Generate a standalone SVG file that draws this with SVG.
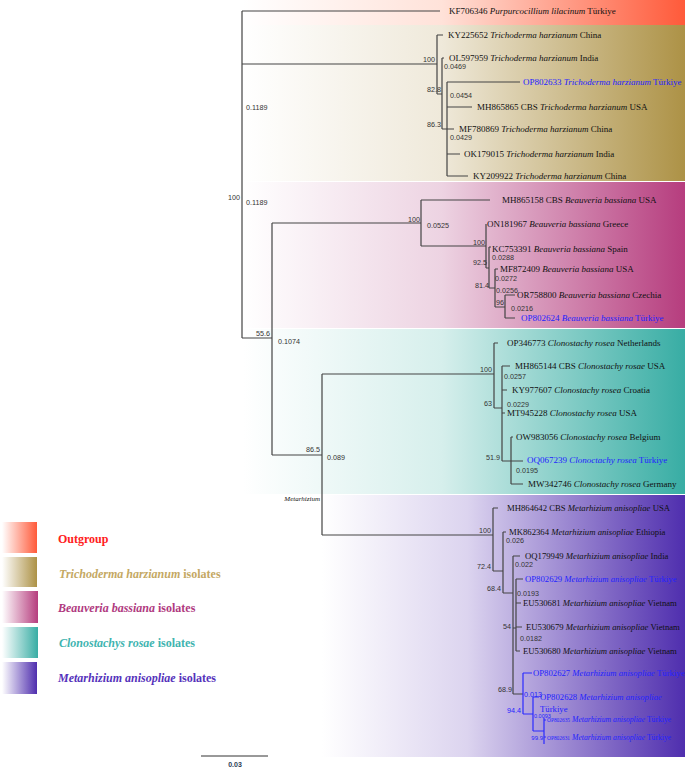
<svg xmlns="http://www.w3.org/2000/svg" width="685" height="768" viewBox="0 0 685 768">
<defs>
<linearGradient id="gOut" x1="0" y1="0" x2="1" y2="0"><stop offset="0" stop-color="#ffffff"/><stop offset="0.45" stop-color="#ffe2d9"/><stop offset="1" stop-color="#ff5a3a"/></linearGradient>
<linearGradient id="gTri" x1="0" y1="0" x2="1" y2="0"><stop offset="0" stop-color="#ffffff"/><stop offset="0.45" stop-color="#efe9da"/><stop offset="1" stop-color="#ad9246"/></linearGradient>
<linearGradient id="gBea" x1="0" y1="0" x2="1" y2="0"><stop offset="0" stop-color="#ffffff"/><stop offset="0.45" stop-color="#edd3e2"/><stop offset="1" stop-color="#b63d7e"/></linearGradient>
<linearGradient id="gClo" x1="0" y1="0" x2="1" y2="0"><stop offset="0" stop-color="#ffffff"/><stop offset="0.45" stop-color="#d6efec"/><stop offset="1" stop-color="#38ada4"/></linearGradient>
<linearGradient id="gMet" x1="0" y1="0" x2="1" y2="0"><stop offset="0" stop-color="#ffffff"/><stop offset="0.4" stop-color="#dcd4ef"/><stop offset="1" stop-color="#4f2eae"/></linearGradient>
<linearGradient id="lOut" x1="0" y1="0" x2="1" y2="0"><stop offset="0" stop-color="#ffffff"/><stop offset="1" stop-color="#ff5a3a"/></linearGradient>
<linearGradient id="lTri" x1="0" y1="0" x2="1" y2="0"><stop offset="0" stop-color="#ffffff"/><stop offset="1" stop-color="#ad9246"/></linearGradient>
<linearGradient id="lBea" x1="0" y1="0" x2="1" y2="0"><stop offset="0" stop-color="#ffffff"/><stop offset="1" stop-color="#b63d7e"/></linearGradient>
<linearGradient id="lClo" x1="0" y1="0" x2="1" y2="0"><stop offset="0" stop-color="#ffffff"/><stop offset="1" stop-color="#38ada4"/></linearGradient>
<linearGradient id="lMet" x1="0" y1="0" x2="1" y2="0"><stop offset="0" stop-color="#ffffff"/><stop offset="1" stop-color="#4f2eae"/></linearGradient>
</defs>
<style>
.lf{font-family:"Liberation Serif","Times New Roman",serif;font-size:9px;fill:#111}
.lf.b{fill:#2222ff}
.m{font-size:8.7px}
.i{font-style:italic}
.s{font-family:"Liberation Sans",Arial,sans-serif;font-size:7.2px;fill:#333}
.s.b{fill:#2222ff}
.e{text-anchor:end}
.br{fill:none;stroke:#444;stroke-width:1.2}
.bb{fill:none;stroke:#2a2aff;stroke-width:1.2}
.lg{font-family:"Liberation Serif","Times New Roman",serif;font-size:12px;font-weight:bold}
</style>
<rect width="685" height="768" fill="#ffffff"/>
<g id="bands">
<rect x="243" y="0" width="442" height="25" fill="url(#gOut)"/>
<rect x="243" y="25" width="442" height="156" fill="url(#gTri)"/>
<rect x="243" y="182" width="442" height="146" fill="url(#gBea)"/>
<rect x="243" y="329" width="442" height="165" fill="url(#gClo)"/>
<rect x="322" y="495" width="363" height="262" fill="url(#gMet)"/>
</g>
<g id="connectors">
<path class="br" d="M242,11V338M242,11H440M242,64H437M242,338H272"/>
<path class="br" d="M437,35V94M437,35H443M437,94H442M442,58V129M442,58H444M442,129H447M447,82V176M447,82H520M447,107H472M447,129H454M447,154H460M447,176H468"/>
<path class="br" d="M272,223V455M272,223H421M421,200V246M421,200H490M421,246H486M486,224V268M486,268H489M489,247V288M489,247H491M489,288H495M495,269V307M495,269H498M495,307H505M505,295V318M505,295H515M505,318H515"/>
<path class="br" d="M272,455H322M322,374V535M322,374H494M494,343V408M494,343H498M494,408H502M502,366V461M502,366H510M502,390H507M502,413H505M502,461H511M511,437V484M511,437H513M511,461H523M511,484H523"/>
<path class="br" d="M322,535H493M493,508V571M493,508H498M493,571H503M503,532V593M503,532H506M503,593H513M513,556V694M513,556H520M513,628H516M516,579V651M516,579H523M516,603H521M516,627H522M516,651H520M513,694H523"/>
<path class="bb" d="M523,673V714M523,673H532M523,714H533M533,697V731M533,697H539M533,731H544M544,718V744M544,720H546M544,737H546"/>
</g>
<g id="support">
<text class="s" x="246" y="110">0.1189</text>
<text class="s e" x="240" y="200">100</text>
<text class="s" x="246" y="205">0.1189</text>
<text class="s e" x="435" y="62">100</text>
<text class="s" x="444" y="69">0.0469</text>
<text class="s e" x="441" y="92">82.8</text>
<text class="s" x="450" y="98">0.0454</text>
<text class="s e" x="441" y="127">86.3</text>
<text class="s" x="450" y="140">0.0429</text>
<text class="s e" x="420" y="222">100</text>
<text class="s" x="427" y="228">0.0525</text>
<text class="s e" x="485" y="245">100</text>
<text class="s" x="492" y="260">0.0288</text>
<text class="s e" x="487" y="265">92.5</text>
<text class="s" x="495" y="281">0.0272</text>
<text class="s e" x="489" y="288">81.4</text>
<text class="s" x="496" y="293">0.0256</text>
<text class="s e" x="504" y="305">96</text>
<text class="s" x="511" y="311">0.0216</text>
<text class="s e" x="270" y="336">55.6</text>
<text class="s" x="278" y="344">0.1074</text>
<text class="s e" x="320" y="452">86.5</text>
<text class="s" x="327" y="460">0.089</text>
<text class="s e" x="492" y="372">100</text>
<text class="s" x="504" y="379">0.0257</text>
<text class="s e" x="492" y="406">63</text>
<text class="s" x="507" y="407">0.0229</text>
<text class="s e" x="500" y="460">51.9</text>
<text class="s" x="516" y="473">0.0195</text>
<text class="s e" x="491" y="533">100</text>
<text class="s" x="506" y="543">0.026</text>
<text class="s e" x="491" y="569">72.4</text>
<text class="s" x="515" y="567">0.022</text>
<text class="s e" x="501" y="591">68.4</text>
<text class="s" x="517" y="596">0.0193</text>
<text class="s e" x="511" y="629">54</text>
<text class="s" x="520" y="641">0.0182</text>
<text class="s e" x="512" y="692">68.9</text>
<text class="s b" x="524" y="697">0.013</text>
<text class="s b e" x="521" y="713">94.4</text>
<text class="s b" x="534" y="718" style="font-size:5.5px">0.0093</text>
<text class="s b e" x="543" y="740" style="font-size:6px">99.9</text>
<text class="lf i" x="320" y="501" text-anchor="end" style="font-size:7px">Metarhizium</text>
</g>
<g id="n-KF706346"><text class="lf" x="449" y="14">KF706346 <tspan class="i">Purpurcocillium lilacinum</tspan> Türkiye</text></g>
<g id="n-KY225652"><text class="lf" x="448" y="38">KY225652 <tspan class="i">Trichoderma harzianum</tspan> China</text></g>
<g id="n-OL597959"><text class="lf" x="449" y="61">OL597959 <tspan class="i">Trichoderma harzianum</tspan> India</text></g>
<g id="n-OP802633"><text class="lf b" x="523" y="85">OP802633 <tspan class="i">Trichoderma harzianum</tspan> Türkiye</text></g>
<g id="n-MH865865"><text class="lf" x="477" y="110">MH865865 CBS <tspan class="i">Trichoderma harzianum</tspan> USA</text></g>
<g id="n-MF780869"><text class="lf" x="459" y="132">MF780869 <tspan class="i">Trichoderma harzianum</tspan> China</text></g>
<g id="n-OK179015"><text class="lf" x="464" y="157">OK179015 <tspan class="i">Trichoderma harzianum</tspan> India</text></g>
<g id="n-KY209922"><text class="lf" x="473" y="179">KY209922 <tspan class="i">Trichoderma harzianum</tspan> China</text></g>
<g id="n-MH865158"><text class="lf" x="502" y="203">MH865158 CBS <tspan class="i">Beauveria bassiana</tspan> USA</text></g>
<g id="n-ON181967"><text class="lf" x="487" y="227">ON181967 <tspan class="i">Beauveria bassiana</tspan> Greece</text></g>
<g id="n-KC753391"><text class="lf" x="492" y="252">KC753391 <tspan class="i">Beauveria bassiana</tspan> Spain</text></g>
<g id="n-MF872409"><text class="lf" x="500" y="272">MF872409 <tspan class="i">Beauveria bassiana</tspan> USA</text></g>
<g id="n-OR758800"><text class="lf" x="517" y="298">OR758800 <tspan class="i">Beauveria bassiana</tspan> Czechia</text></g>
<g id="n-OP802624"><text class="lf b" x="521" y="321">OP802624 <tspan class="i">Beauveria bassiana</tspan> Türkiye</text></g>
<g id="n-OP346773"><text class="lf" x="507" y="346">OP346773 <tspan class="i">Clonostachy rosea</tspan> Netherlands</text></g>
<g id="n-MH865144"><text class="lf" x="515" y="369">MH865144 CBS <tspan class="i">Clonostachy rosae</tspan> USA</text></g>
<g id="n-KY977607"><text class="lf" x="512" y="393">KY977607 <tspan class="i">Clonostachy rosea</tspan> Croatia</text></g>
<g id="n-MT945228"><text class="lf" x="507" y="416">MT945228 <tspan class="i">Clonostachy rosea</tspan> USA</text></g>
<g id="n-OW983056"><text class="lf" x="516" y="440">OW983056 <tspan class="i">Clonostachy rosea</tspan> Belgium</text></g>
<g id="n-OQ067239"><text class="lf b" x="527" y="463">OQ067239 <tspan class="i">Clonoctachy rosea</tspan> Türkiye</text></g>
<g id="n-MW342746"><text class="lf" x="528" y="487">MW342746 <tspan class="i">Clonostachy rosea</tspan> Germany</text></g>
<g id="n-MH864642"><text class="lf m" x="507" y="511">MH864642 CBS <tspan class="i">Metarhizium anisopliae</tspan> USA</text></g>
<g id="n-MK862364"><text class="lf m" x="509" y="535">MK862364 <tspan class="i">Metarhizium anisopliae</tspan> Ethiopia</text></g>
<g id="n-OQ179949"><text class="lf m" x="525" y="559">OQ179949 <tspan class="i">Metarhizium anisopliae</tspan> India</text></g>
<g id="n-OP802629"><text class="lf m b" x="525" y="582">OP802629 <tspan class="i">Metarhizium anisopliae</tspan> Türkiye</text></g>
<g id="n-EU530681"><text class="lf m" x="523" y="606">EU530681 <tspan class="i">Metarhizium anisopliae</tspan> Vietnam</text></g>
<g id="n-EU530679"><text class="lf m" x="526" y="630">EU530679 <tspan class="i">Metarhizium anisopliae</tspan> Vietnam</text></g>
<g id="n-EU530680"><text class="lf m" x="523" y="654">EU530680 <tspan class="i">Metarhizium anisopliae</tspan> Vietnam</text></g>
<g id="n-OP802627"><text class="lf m b" x="533" y="676">OP802627 <tspan class="i">Metarhizium anisopliae</tspan> Türkiye</text></g>
<g id="n-OP802628"><text class="lf m b" x="540" y="700">OP802628 <tspan class="i">Metarhizium anisopliae</tspan></text><text class="lf m b" x="540" y="712">Türkiye</text></g>
<g id="n-OP802635"><text class="lf b" x="547" y="722" style="font-size:7.7px"><tspan style="font-size:5.4px">OP802635</tspan> <tspan class="i">Metarhizium anisopliae</tspan> Türkiye</text></g>
<g id="n-OP802631"><text class="lf b" x="547" y="740" style="font-size:7.7px"><tspan style="font-size:5.4px">OP802631</tspan> <tspan class="i">Metarhizium anisopliae</tspan> Türkiye</text></g>
<g id="scale">
<path d="M201,756H268" stroke="#333" stroke-width="1" fill="none"/>
<text x="235" y="767" text-anchor="middle" style="font-family:'Liberation Sans',Arial,sans-serif;font-size:7px;font-weight:bold;fill:#2b3b55">0.03</text>
</g>
<g id="legend-outgroup"><rect x="2" y="522" width="35" height="31" fill="url(#lOut)"/><text class="lg" x="58" y="543" fill="#ff2020">Outgroup</text></g>
<g id="legend-trichoderma"><rect x="2" y="557" width="35" height="30" fill="url(#lTri)"/><text class="lg" x="59" y="578" fill="#c4a863"><tspan font-style="italic">Trichoderma harzianum</tspan> isolates</text></g>
<g id="legend-beauveria"><rect x="2" y="591" width="36" height="32" fill="url(#lBea)"/><text class="lg" x="58" y="612" fill="#b03a80"><tspan font-style="italic">Beauveria bassiana</tspan> isolates</text></g>
<g id="legend-clonostachys"><rect x="2" y="627" width="36" height="31" fill="url(#lClo)"/><text class="lg" x="59" y="647" fill="#40b4b0"><tspan font-style="italic">Clonostachys rosae</tspan> isolates</text></g>
<g id="legend-metarhizium"><rect x="2" y="662" width="35" height="32" fill="url(#lMet)"/><text class="lg" x="58" y="682" fill="#5532bb"><tspan font-style="italic">Metarhizium anisopliae</tspan> isolates</text></g>
</svg>
